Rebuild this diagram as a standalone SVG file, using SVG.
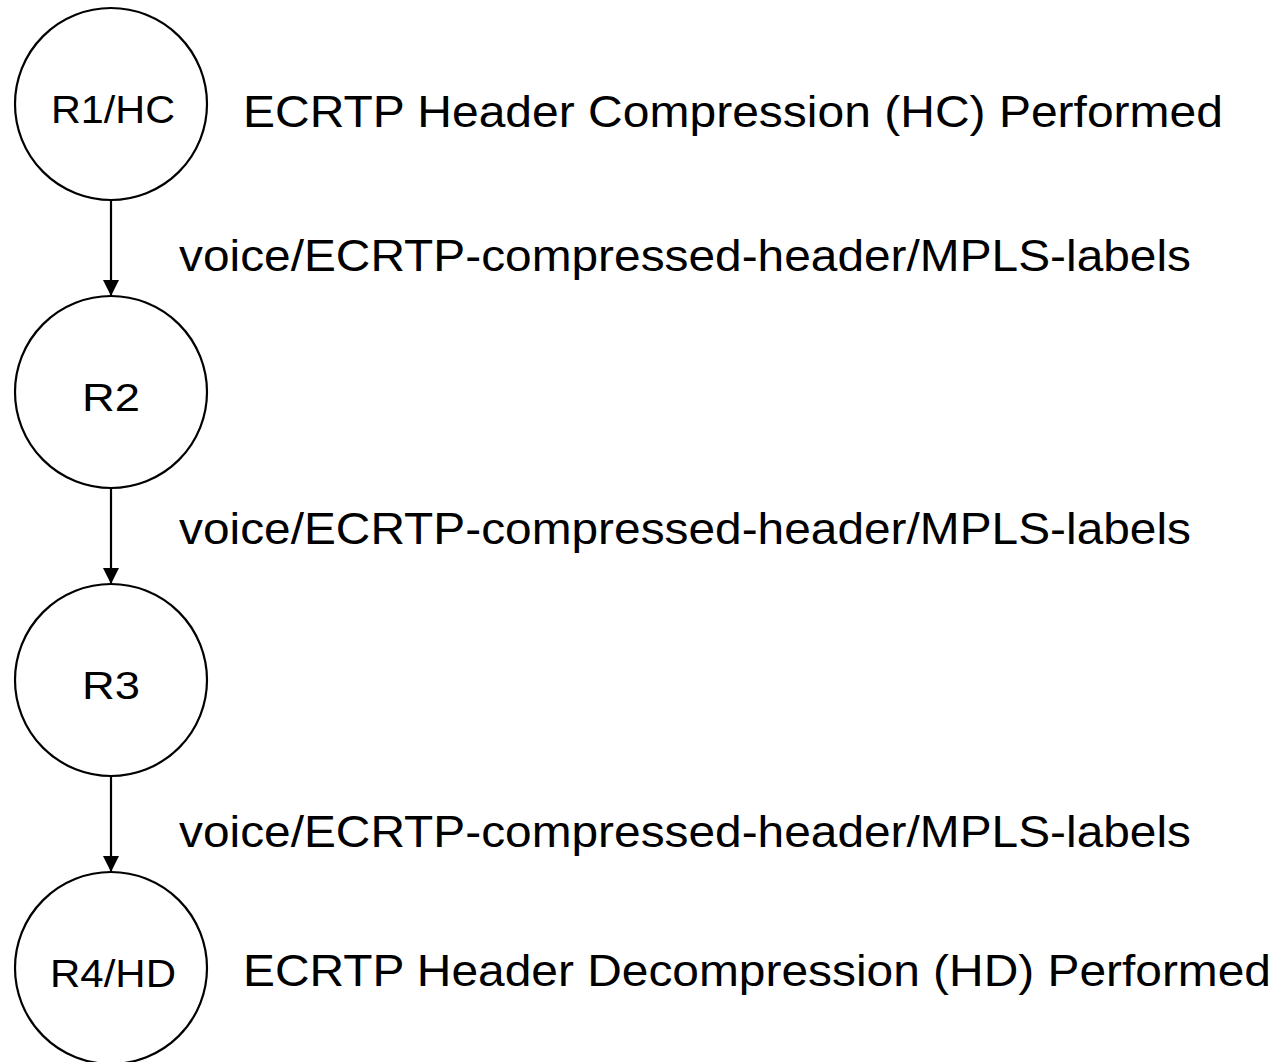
<svg xmlns="http://www.w3.org/2000/svg" width="1280" height="1062" viewBox="0 0 1280 1062">
<style>
.node circle{fill:#fff;stroke:#000;stroke-width:2.2}
.nl{font-family:"Liberation Sans",Arial,sans-serif;font-size:39px;fill:#000;text-anchor:middle}
.lbl{font-family:"Liberation Sans",Arial,sans-serif;font-size:45px;fill:#000}
.edge{stroke:#000;stroke-width:2.2;fill:none}
</style>
<defs>
<marker id="arr" viewBox="0 0 16 16" refX="16" refY="8" markerWidth="16" markerHeight="16" markerUnits="userSpaceOnUse" orient="auto">
<path d="M0,0 L16,8 L0,16 Z" fill="#000"/>
</marker>
</defs>
<rect width="1280" height="1062" fill="#fff"/>
<g id="connectors">
<line class="edge" x1="111" y1="200" x2="111" y2="296" marker-end="url(#arr)"/>
<line class="edge" x1="111" y1="488" x2="111" y2="584" marker-end="url(#arr)"/>
<line class="edge" x1="111" y1="776" x2="111" y2="872" marker-end="url(#arr)"/>
<text class="lbl" x="179" y="271" textLength="1012" lengthAdjust="spacingAndGlyphs">voice/ECRTP-compressed-header/MPLS-labels</text>
<text class="lbl" x="179" y="544" textLength="1012" lengthAdjust="spacingAndGlyphs">voice/ECRTP-compressed-header/MPLS-labels</text>
<text class="lbl" x="179" y="847" textLength="1012" lengthAdjust="spacingAndGlyphs">voice/ECRTP-compressed-header/MPLS-labels</text>
</g>
<g id="r1" class="node">
<circle cx="111" cy="104" r="96"/>
<text class="nl" x="113" y="123" textLength="124" lengthAdjust="spacingAndGlyphs">R1/HC</text>
<text class="lbl" x="243" y="127" textLength="980" lengthAdjust="spacingAndGlyphs">ECRTP Header Compression (HC) Performed</text>
</g>
<g id="r2" class="node">
<circle cx="111" cy="392" r="96"/>
<text class="nl" x="111" y="411" textLength="58" lengthAdjust="spacingAndGlyphs">R2</text>
</g>
<g id="r3" class="node">
<circle cx="111" cy="680" r="96"/>
<text class="nl" x="111" y="699" textLength="58" lengthAdjust="spacingAndGlyphs">R3</text>
</g>
<g id="r4" class="node">
<circle cx="111" cy="968" r="96"/>
<text class="nl" x="113" y="987" textLength="126" lengthAdjust="spacingAndGlyphs">R4/HD</text>
<text class="lbl" x="243" y="986" textLength="1028" lengthAdjust="spacingAndGlyphs">ECRTP Header Decompression (HD) Performed</text>
</g>
</svg>
